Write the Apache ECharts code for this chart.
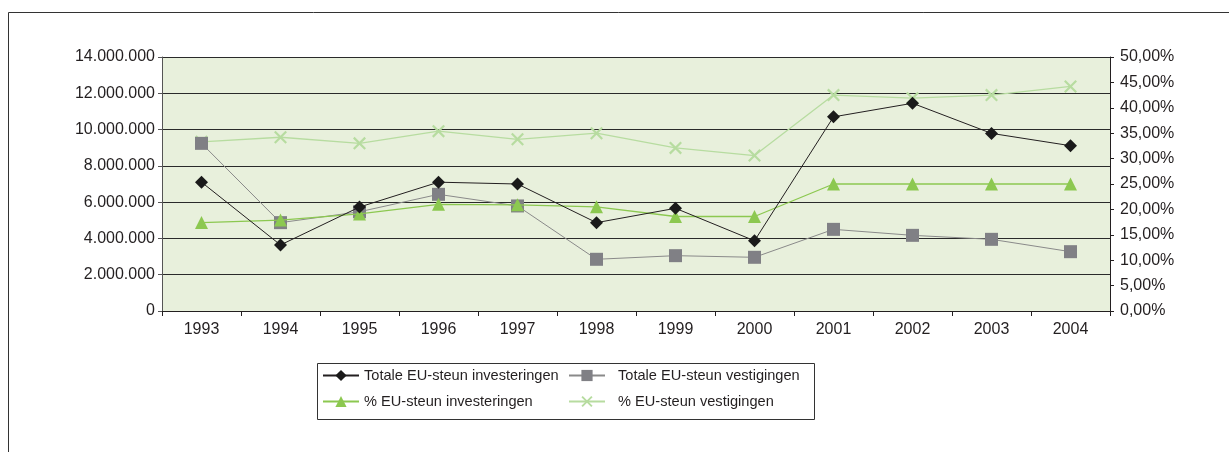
<!DOCTYPE html>
<html>
<head>
<meta charset="utf-8">
<script src="https://cdn.jsdelivr.net/npm/echarts@6/dist/echarts.min.js"></script>
<style>
html, body { margin: 0; padding: 0; background: #fff; }
#chart { width: 1229px; height: 452px; }
</style>
</head>
<body>
<div id="chart"></div>
<script>
// jaren
const years = ['1993', '1994', '1995', '1996', '1997', '1998', '1999', '2000', '2001', '2002', '2003', '2004']
// totalen (euro)
const totaalInvesteringen = [7100000, 3640000, 5730000, 7100000, 7000000, 4870000, 5660000, 3870000, 10700000, 11450000, 9790000, 9110000]
const totaalVestigingen = [9240000, 4870000, 5470000, 6430000, 5790000, 2850000, 3050000, 2960000, 4500000, 4170000, 3950000, 3270000]
// percentages
const pctInvesteringen = [17.4, 17.9, 19.1, 21.0, 20.9, 20.5, 18.6, 18.6, 25.0, 25.0, 25.0, 25.0]
const pctVestigingen = [33.3, 34.2, 33.0, 35.4, 33.8, 35.0, 32.1, 30.6, 42.5, 41.9, 42.5, 44.2]

const names = [
    'Totale EU-steun investeringen',
    'Totale EU-steun vestigingen',
    '% EU-steun investeringen',
    '% EU-steun vestigingen'
]

const crossSymbol = 'path://M0,1.2L1.2,0L10,8.8L8.8,10Z M8.8,0L10,1.2L1.2,10L0,8.8Z'

function fmtNum(v) {
    return String(v).replace(/\B(?=(\d{3})+(?!\d))/g, '.')
}

let dom = document.getElementById('chart')
let chart = echarts.init(dom)
let labelStyle = { color: '#231f20', fontSize: 16, fontFamily: 'Liberation Sans, Arial, sans-serif' }

let option = {
    animation: false,
    textStyle: { fontFamily: 'Liberation Sans, Arial, sans-serif' },
    graphic: [
        { type: 'polyline', shape: { points: [[8.5, 452], [8.5, 12.5], [1229, 12.5]] }, style: { stroke: '#333', lineWidth: 1, fill: null } },
        { type: 'rect', shape: { x: 317.5, y: 363.5, width: 497, height: 56 }, style: { stroke: '#333', lineWidth: 1, fill: null } }
    ],
    grid: {
        left: 162, right: 119, top: 57, bottom: 141,
        show: true, backgroundColor: '#e8f0dc', borderColor: '#999', borderWidth: 0
    },
    legend: [
        {
            orient: 'vertical', left: 322, top: 368, padding: 0, itemGap: 11, itemWidth: 36, itemHeight: 14,
            data: [names[0], names[2]],
            textStyle: { color: '#231f20', fontSize: 14.6 }
        },
        {
            orient: 'vertical', left: 568, top: 368, padding: 0, itemGap: 11, itemWidth: 36, itemHeight: 14,
            data: [names[1], names[3]],
            textStyle: { color: '#231f20', fontSize: 14.6, padding: [0, 0, 0, 8] }
        }
    ],
    xAxis: {
        type: 'category',
        data: years,
        boundaryGap: true,
        axisLine: { lineStyle: { color: '#231f20', width: 1 } },
        axisTick: { show: true, length: 5, lineStyle: { color: '#231f20' } },
        axisLabel: Object.assign({ margin: 11 }, labelStyle),
        splitLine: { show: false }
    },
    yAxis: [
        {
            type: 'value', min: 0, max: 14000000, interval: 2000000,
            axisLine: { show: true, lineStyle: { color: '#555' } },
            axisTick: { show: true, length: 4, lineStyle: { color: '#555' } },
            axisLabel: Object.assign({ margin: 7, formatter: v => fmtNum(v) }, labelStyle),
            splitLine: { show: true, lineStyle: { color: '#2a2a2a', width: 1 } }
        },
        {
            type: 'value', min: 0, max: 50, interval: 5, position: 'right',
            axisLine: { show: true, lineStyle: { color: '#231f20' } },
            axisTick: { show: true, length: 4, lineStyle: { color: '#231f20' } },
            axisLabel: Object.assign({ margin: 10, formatter: v => v.toFixed(2).replace('.', ',') + '%' }, labelStyle),
            splitLine: { show: false }
        }
    ],
    series: [
        {
            name: names[0], type: 'line', yAxisIndex: 0, data: totaalInvesteringen, z: 5,
            symbol: 'diamond', symbolSize: 13,
            lineStyle: { color: '#231f20', width: 1 },
            itemStyle: { color: '#1a1a1a' }
        },
        {
            name: names[1], type: 'line', yAxisIndex: 0, data: totaalVestigingen, z: 3,
            symbol: 'rect', symbolSize: 13,
            lineStyle: { color: '#8a8a8a', width: 1 },
            itemStyle: { color: '#808085' }
        },
        {
            name: names[2], type: 'line', yAxisIndex: 1, data: pctInvesteringen, z: 4,
            symbol: 'triangle', symbolSize: 13,
            lineStyle: { color: '#8cc850', width: 1.3 },
            itemStyle: { color: '#8cc850' }
        },
        {
            name: names[3], type: 'line', yAxisIndex: 1, data: pctVestigingen, z: 2,
            symbol: crossSymbol, symbolSize: 13,
            lineStyle: { color: '#b7dca0', width: 1.3 },
            itemStyle: { color: '#b7dca0' }
        }
    ]
}

option && chart.setOption(option)
window.addEventListener('resize', () => chart.resize())
</script>
</body>
</html>
